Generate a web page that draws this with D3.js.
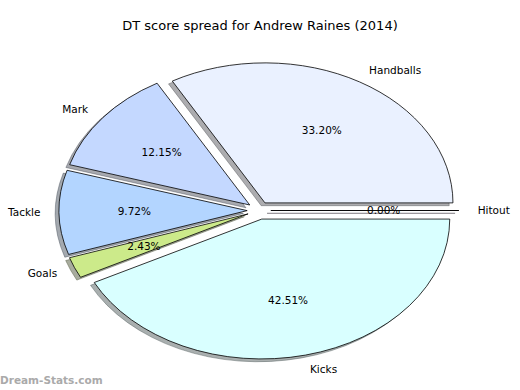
<!DOCTYPE html>
<html>
<head>
	<title>DT score spread</title>
	<style type="text/css">
		body {
			margin: 0;
			background: #fff;
		}
		text {
			font-family: "DejaVu Sans", sans-serif;
		}
	</style>
	<script src="https://d3js.org/d3.v7.min.js"></script>
</head>
<body>
<div class="container"></div>
<script type="text/javascript">
	// DT points per stat, in the order matplotlib laid them out
	var categories = ["Handballs", "Mark", "Tackle", "Goals", "Kicks", "Hitout"];
	var points = [82, 30, 24, 6, 105, 0];
	var colors = ["#eaf1ff", "#c4d8ff", "#b3d5ff", "#ccea8a", "#d9ffff", "#f0e0ff"];

	var svg = d3.select(".container").append("svg")
			.attr("width", 520)
			.attr("height", 390);

	var cx = 259, cy = 210.5,
		rx = 188, ry = 140,
		explode = 0.063;

	svg.append("text")
		.attr("x", 260)
		.attr("y", 30)
		.attr("text-anchor", "middle")
		.style("font-size", "13px")
		.text("DT score spread for Andrew Raines (2014)");

	var data = categories.map(function(c, i) { return {name: c, value: points[i], color: colors[i]}; });
	var total = d3.sum(points);

	// start at 3 o'clock and go counter-clockwise
	var pie = d3.pie()
		.sort(null)
		.value(function(d) { return d.value; })
		.startAngle(Math.PI / 2)
		.endAngle(Math.PI / 2 - 2 * Math.PI);

	var arc = d3.arc().innerRadius(0).outerRadius(1);
	var arcs = pie(data);

	function dir(d) {
		var a = (d.startAngle + d.endAngle) / 2;
		return [Math.sin(a), -Math.cos(a)];
	}

	function shade(c) {
		var col = d3.rgb(c);
		return d3.rgb(col.r * 0.3, col.g * 0.3, col.b * 0.3).toString();
	}

	arcs.forEach(function(d) {
		var u = dir(d),
			ox = cx + explode * rx * u[0],
			oy = cy + explode * ry * u[1];

		svg.append("path")
			.attr("d", arc(d))
			.attr("transform", "translate(" + (ox - 0.02 * rx) + "," + (oy + 0.02 * ry) + ") scale(" + rx + "," + ry + ")")
			.attr("fill", shade(d.data.color))
			.attr("fill-opacity", 0.45)
			.attr("stroke", shade(d.data.color))
			.attr("stroke-opacity", 0.45)
			.attr("stroke-width", 0.9)
			.attr("vector-effect", "non-scaling-stroke");

		svg.append("path")
			.attr("d", arc(d))
			.attr("transform", "translate(" + ox + "," + oy + ") scale(" + rx + "," + ry + ")")
			.attr("fill", d.data.color)
			.attr("stroke", "#000")
			.attr("stroke-width", 0.8)
			.attr("stroke-linejoin", "miter")
			.attr("vector-effect", "non-scaling-stroke");
	});

	arcs.forEach(function(d) {
		var u = dir(d),
			k = explode + 1.1,
			p = explode + 0.6;

		svg.append("text")
			.attr("x", cx + k * rx * u[0])
			.attr("y", cy + k * ry * u[1])
			.attr("dy", "0.35em")
			.attr("text-anchor", u[0] > 0 ? "start" : "end")
			.style("font-size", "10.5px")
			.text(d.data.name);

		svg.append("text")
			.attr("x", cx + p * rx * u[0])
			.attr("y", cy + p * ry * u[1])
			.attr("dy", "0.35em")
			.attr("text-anchor", "middle")
			.style("font-size", "10.5px")
			.text(d3.format(".2%")(d.data.value / total));
	});

	svg.append("text")
		.attr("x", 0)
		.attr("y", 384)
		.style("font-size", "10.5px")
		.style("font-weight", "bold")
		.attr("fill", "#aaa")
		.text("Dream-Stats.com");
</script>
</body>
</html>
